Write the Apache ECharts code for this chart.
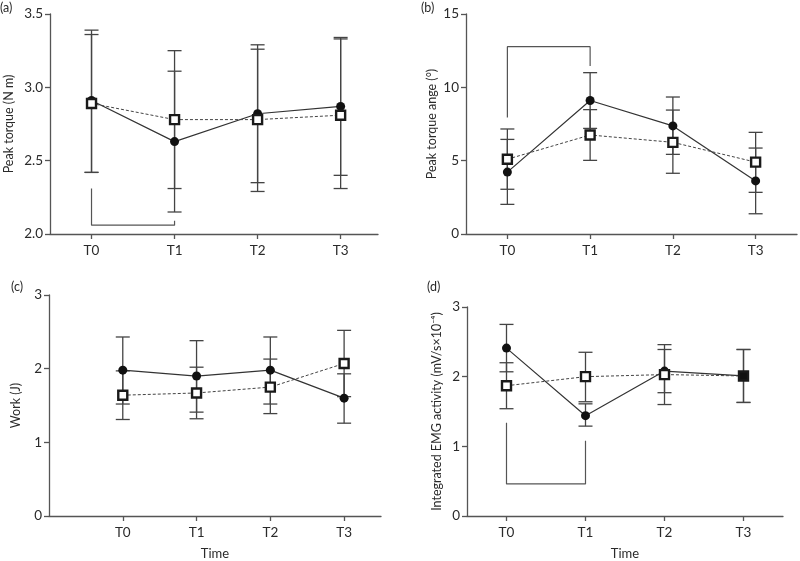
<!DOCTYPE html>
<html><head><meta charset="utf-8">
<script src="https://cdn.jsdelivr.net/npm/echarts@6/dist/echarts.min.js"></script>
<style>html,body{margin:0;padding:0;background:#fff}#c{width:800px;height:561px}</style>
</head><body><div id="c"></div>
<script>
const timeLabels = ['T0', 'T1', 'T2', 'T3'];
const tickPositions = [0, 1, 2, 3];

// (a) Peak torque
const aCircleMean = [2.91, 2.63, 2.82, 2.87];
const aCircleLow  = [2.42, 2.15, 2.35, 2.40];
const aCircleHigh = [3.39, 3.11, 3.29, 3.34];
const aSquareMean = [2.89, 2.78, 2.78, 2.81];
const aSquareLow  = [2.42, 2.31, 2.29, 2.31];
const aSquareHigh = [3.36, 3.25, 3.26, 3.33];
const aBracket = [[0, 2.31], [0, 2.06], [1, 2.06], [1, 2.09]];
const aTicks = [2.0, 2.5, 3.0, 3.5];

// (b) Peak torque angle
const bCircleMean = [4.22, 9.10, 7.37, 3.62];
const bCircleLow  = [2.02, 7.20, 5.43, 1.38];
const bCircleHigh = [6.45, 11.00, 9.34, 5.86];
const bSquareMean = [5.10, 6.75, 6.25, 4.90];
const bSquareLow  = [3.05, 5.02, 4.14, 2.84];
const bSquareHigh = [7.16, 8.48, 8.45, 6.93];
const bBracket = [[0, 7.95], [0, 12.77], [1, 12.77], [1, 11.45]];
const bTicks = [0, 5, 10, 15];

// (c) Work
const cCircleMean = [1.98, 1.90, 1.98, 1.60];
const cCircleLow  = [1.52, 1.41, 1.52, 1.26];
const cCircleHigh = [2.43, 2.38, 2.43, 1.93];
const cSquareMean = [1.64, 1.67, 1.75, 2.07];
const cSquareLow  = [1.31, 1.32, 1.39, 1.62];
const cSquareHigh = [1.97, 2.02, 2.13, 2.52];
const cTicks = [0, 1, 2, 3];

// (d) Integrated EMG activity
const dCircleMean = [2.41, 1.44, 2.08, 2.01];
const dCircleLow  = [2.07, 1.29, 1.77, 1.63];
const dCircleHigh = [2.75, 1.61, 2.39, 2.39];
const dSquareMean = [1.87, 2.00, 2.03, 2.01];
const dSquareLow  = [1.54, 1.64, 1.60, 1.63];
const dSquareHigh = [2.20, 2.35, 2.46, 2.39];
const dBracket = [[0, 1.34], [0, 0.46], [1, 0.46], [1, 1.08]];
const dTicks = [0, 1, 2, 3];

const FONT = 'Lato';
const axisColor = '#555';
const textColor = '#2a2a2a';

function xAxis(gi, min, max, name) {
  return {
    type: 'value', gridIndex: gi, min: min, max: max,
    axisLine: { show: true, onZero: false, lineStyle: { color: axisColor, width: 1.3 } },
    axisTick: { show: true, customValues: tickPositions, length: 5, lineStyle: { color: axisColor, width: 1.3 } },
    axisLabel: { customValues: tickPositions, formatter: v => timeLabels[Math.round(v)], color: textColor, fontSize: 13.5, fontFamily: FONT, margin: 10 },
    splitLine: { show: false },
    name: name || '', nameLocation: 'middle', nameGap: 31,
    nameTextStyle: { color: textColor, fontSize: 13, fontFamily: FONT }
  };
}
function yAxis(gi, min, max, interval, ticks, name, gap, dec) {
  return {
    type: 'value', gridIndex: gi, min: min, max: max, interval: interval,
    axisLine: { show: true, onZero: false, lineStyle: { color: axisColor, width: 1.3 } },
    axisTick: { show: true, customValues: ticks, length: 5, lineStyle: { color: axisColor, width: 1.3 } },
    axisLabel: { customValues: ticks, formatter: v => v.toFixed(dec), color: textColor, fontSize: 13.5, fontFamily: FONT, margin: 7 },
    splitLine: { show: false },
    name: name, nameLocation: 'middle', nameGap: gap, nameRotate: 90,
    nameTextStyle: { color: textColor, fontSize: 12.5, fontFamily: FONT }
  };
}
function errSeries(gi, lows, highs) {
  return {
    type: 'custom', xAxisIndex: gi, yAxisIndex: gi, z: 2, silent: true,
    encode: { x: 0, y: [1, 2] },
    data: lows.map((l, i) => [i, l, highs[i]]),
    renderItem: (params, api) => {
      const x = api.value(0);
      const top = api.coord([x, api.value(2)]);
      const bot = api.coord([x, api.value(1)]);
      const hw = 7;
      const st = { stroke: '#444', lineWidth: 1.3 };
      return { type: 'group', children: [
        { type: 'line', shape: { x1: top[0], y1: top[1], x2: bot[0], y2: bot[1] }, style: st },
        { type: 'line', shape: { x1: top[0] - hw, y1: top[1], x2: top[0] + hw, y2: top[1] }, style: st },
        { type: 'line', shape: { x1: bot[0] - hw, y1: bot[1], x2: bot[0] + hw, y2: bot[1] }, style: st }
      ] };
    }
  };
}
function circleSeries(gi, means) {
  return {
    type: 'line', xAxisIndex: gi, yAxisIndex: gi, z: 3, silent: true,
    data: means.map((v, i) => [i, v]),
    symbol: 'circle', symbolSize: 9,
    itemStyle: { color: '#111', borderWidth: 0 },
    lineStyle: { color: '#333', width: 1.2 }
  };
}
function squareSeries(gi, means, filledIdx) {
  return {
    type: 'line', xAxisIndex: gi, yAxisIndex: gi, z: 4, silent: true,
    data: means.map((v, i) => (i === filledIdx ? { value: [i, v], itemStyle: { color: '#111' } } : [i, v])),
    symbol: 'rect', symbolSize: 9,
    itemStyle: { color: '#fff', borderColor: '#1a1a1a', borderWidth: 2.4 },
    lineStyle: { color: '#444', width: 1, type: [3, 2] }
  };
}
function bracketSeries(gi, pts) {
  return {
    type: 'line', xAxisIndex: gi, yAxisIndex: gi, z: 2, silent: true,
    data: pts, symbol: 'none',
    lineStyle: { color: '#555', width: 1.2 }
  };
}

const chart = echarts.init(document.getElementById('c'));
chart.setOption({
  animation: false,
  backgroundColor: '#fff',
  grid: [
    { left: 50, top: 14, width: 328, height: 220 },
    { left: 466, top: 14, width: 331, height: 220 },
    { left: 49, top: 295, width: 332, height: 221 },
    { left: 467, top: 307, width: 316, height: 209 }
  ],
  xAxis: [
    xAxis(0, -0.5, 3.45),
    xAxis(1, -0.5, 3.5),
    xAxis(2, -1, 3.5, 'Time'),
    xAxis(3, -0.5, 3.5, 'Time')
  ],
  yAxis: [
    yAxis(0, 2, 3.5, 0.5, aTicks, 'Peak torque (N m)', 35, 1),
    yAxis(1, 0, 15, 5, bTicks, 'Peak torque ange (°)', 28, 0),
    yAxis(2, 0, 3, 1, cTicks, 'Work (J)', 27, 0),
    yAxis(3, 0, 3, 1, dTicks, 'Integrated EMG activity (mV/s×10⁻⁴)', 24, 0)
  ],
  graphic: [
    { type: 'text', left: 0, top: 1, style: { text: '(a)', fill: textColor, fontSize: 12.5, fontFamily: FONT } },
    { type: 'text', left: 421, top: 1, style: { text: '(b)', fill: textColor, fontSize: 12.5, fontFamily: FONT } },
    { type: 'text', left: 11, top: 280, style: { text: '(c)', fill: textColor, fontSize: 12.5, fontFamily: FONT } },
    { type: 'text', left: 427, top: 280, style: { text: '(d)', fill: textColor, fontSize: 12.5, fontFamily: FONT } }
  ],
  series: [
    errSeries(0, aCircleLow, aCircleHigh), errSeries(0, aSquareLow, aSquareHigh),
    circleSeries(0, aCircleMean), squareSeries(0, aSquareMean, -1), bracketSeries(0, aBracket),
    errSeries(1, bCircleLow, bCircleHigh), errSeries(1, bSquareLow, bSquareHigh),
    circleSeries(1, bCircleMean), squareSeries(1, bSquareMean, -1), bracketSeries(1, bBracket),
    errSeries(2, cCircleLow, cCircleHigh), errSeries(2, cSquareLow, cSquareHigh),
    circleSeries(2, cCircleMean), squareSeries(2, cSquareMean, -1),
    errSeries(3, dCircleLow, dCircleHigh), errSeries(3, dSquareLow, dSquareHigh),
    circleSeries(3, dCircleMean), squareSeries(3, dSquareMean, 3), bracketSeries(3, dBracket)
  ]
});
</script>
</body></html>
